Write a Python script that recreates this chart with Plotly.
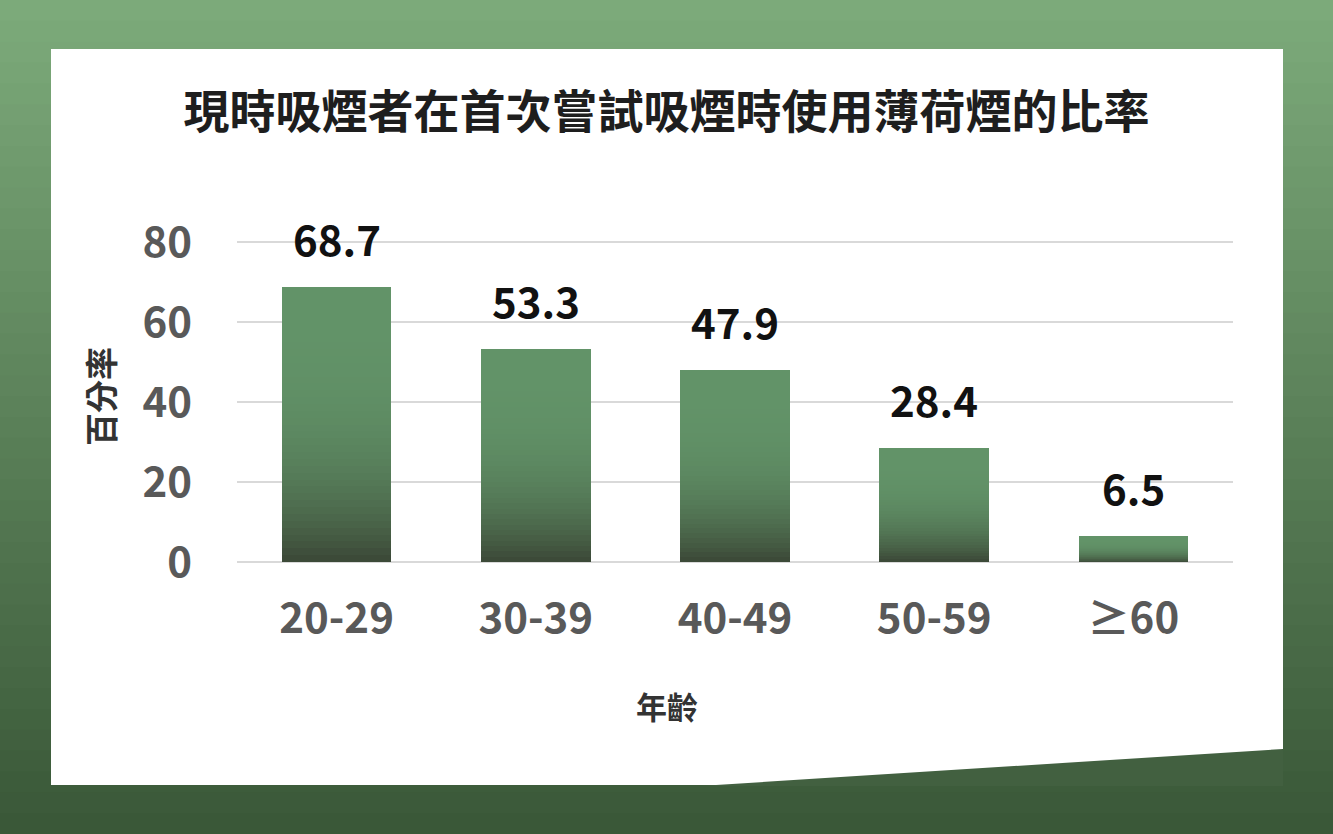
import plotly.graph_objects as go

# data
age_groups = ["20-29", "30-39", "40-49", "50-59", "≥60"]
menthol_pct = [68.7, 53.3, 47.9, 28.4, 6.5]
y_ticks = [0, 20, 40, 60, 80]

title_text = "現時吸煙者在首次嘗試吸煙時使用薄荷煙的比率"
x_title = "年齡"
y_title = "百分率"

CJK = "Noto Sans CJK TC, Noto Sans, sans-serif"

# plot area in pixels (1333 x 834 page); range goes a bit past 80 so its grid line is drawn
L, R, T, B = 237, 1233, 230, 562
W, H = 1333, 834
Y_MAX = 80 * (B - T) / (B - 242)


def px(x):
    return (x - L) / (R - L)


def py(y):
    return (B - y) / (B - T)


def mix(c1, c2, t):
    return "rgb({},{},{})".format(*[round(a + (b - a) * t) for a, b in zip(c1, c2)])


fig = go.Figure()

# each bar is stacked from thin slices to fake the top-to-bottom shading
n_slices = 40
top_col = (98, 147, 104)
bot_col = (60, 74, 56)
for k in range(n_slices):
    # k = 0 is the bottom slice
    t = (1 - k / (n_slices - 1)) ** 3
    fig.add_trace(go.Bar(
        x=age_groups,
        y=[v / n_slices for v in menthol_pct],
        marker=dict(color=mix(top_col, bot_col, t), line=dict(width=0)),
        showlegend=False,
        hoverinfo="skip",
    ))

# value labels above the bars
annotations = []
for cat, v in zip(age_groups, menthol_pct):
    annotations.append(dict(
        x=cat, y=v, text=f"{v:.1f}", showarrow=False,
        xanchor="center", yanchor="bottom", yshift=17,
        font=dict(family=CJK, size=42, color="#111111", weight="bold"),
    ))

annotations += [
    dict(
        text=y_title, xref="paper", yref="paper",
        x=px(100), y=py(397), xanchor="center", yanchor="middle",
        textangle=-90, showarrow=False,
        font=dict(family=CJK, size=33, color="#333333", weight="bold"),
    ),
    dict(
        text=x_title, xref="paper", yref="paper",
        x=px(667), y=py(705), xanchor="center", yanchor="middle",
        showarrow=False,
        font=dict(family=CJK, size=31, color="#333333", weight="bold"),
    ),
]

# page background: green gradient bands, white card on top
shapes = []
n_bands = 40
bg_top = (124, 170, 122)
bg_bot = (58, 88, 56)
for i in range(n_bands):
    y0 = i * H / n_bands
    y1 = (i + 1) * H / n_bands + 1
    shapes.append(dict(
        type="rect", xref="paper", yref="paper", layer="below",
        x0=px(0), x1=px(W), y0=py(y0), y1=py(y1),
        fillcolor=mix(bg_top, bg_bot, i / (n_bands - 1)), line=dict(width=0),
    ))
shapes.append(dict(
    type="rect", xref="paper", yref="paper", layer="below",
    x0=px(51), x1=px(1283), y0=py(49), y1=py(785),
    fillcolor="white", line=dict(width=0),
))
# torn corner at the bottom right of the card
shapes.append(dict(
    type="path", xref="paper", yref="paper", layer="below",
    path="M {},{} L {},{} L {},{} Z".format(px(700), py(786), px(1283), py(749), px(1283), py(786)),
    fillcolor="rgb(66,96,64)", line=dict(width=0),
))

tick_font = dict(family=CJK, size=42, color="#595959", weight="bold")

fig.update_layout(
    width=W,
    height=H,
    margin=dict(l=L, r=W - R, t=T, b=H - B, autoexpand=False),
    paper_bgcolor="rgb(90,130,88)",
    plot_bgcolor="rgba(0,0,0,0)",
    barmode="stack",
    bargap=0.45,
    shapes=shapes,
    annotations=annotations,
    title=dict(
        text=title_text,
        x=0.5, xref="container", xanchor="center",
        y=1 - 112 / H, yref="container", yanchor="middle",
        font=dict(family=CJK, size=46, color="#1e1e1e", weight="bold"),
    ),
    xaxis=dict(
        showgrid=False,
        showline=False,
        ticks="",
        ticklabelstandoff=28,
        tickfont=tick_font,
    ),
    yaxis=dict(
        range=[0, Y_MAX],
        tickvals=y_ticks,
        showgrid=True,
        gridcolor="#d9d9d9",
        gridwidth=1.5,
        zeroline=True,
        zerolinecolor="#d9d9d9",
        zerolinewidth=1.5,
        ticks="",
        ticklabelstandoff=44,
        tickfont=tick_font,
    ),
)

# drop the default page margin so the figure sits at the window's corner
fig.write_html(
    "out.html",
    config={"displayModeBar": False},
    post_script="document.body.style.margin='0';",
)
